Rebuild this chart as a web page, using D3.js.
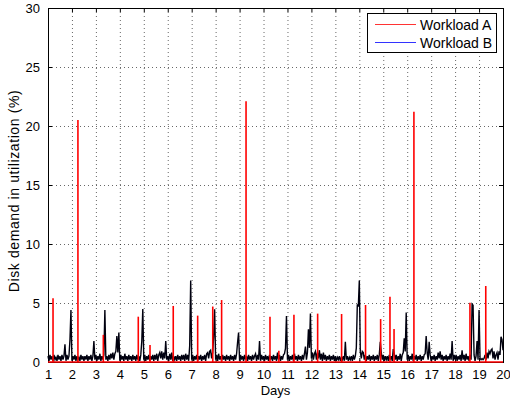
<!DOCTYPE html>
<html>
<head>
<meta charset="utf-8">
<script src="https://cdn.jsdelivr.net/npm/d3@7"></script>
<style>
  body { margin: 0; background: #fff; }
  text { font-family: "Liberation Sans", Arial, Helvetica, sans-serif; fill: #000; }
</style>
</head>
<body>
<div id="chart"></div>
<script>
var xTicks = [1,2,3,4,5,6,7,8,9,10,11,12,13,14,15,16,17,18,19,20];
var yTicks = [0,5,10,15,20,25,30];
var seriesNames = ["Workload A", "Workload B"];

// workload A: flat at 0 with short bursts (day, value)
var spikeDaysA = [1.21,2.25,3.31,4.77,5.26,6.23,7.25,7.88,8.25,9.27,10.27,10.64,11.27,12.26,13.26,14.26,14.89,15.28,15.45,16.28,18.62,19.28];
var spikeValsA = [5.4,20.5,2.3,3.84,1.44,4.75,3.93,4.7,5.25,22.1,3.84,0.96,4.0,4.1,4.07,4.83,3.64,5.53,2.8,21.2,5.03,6.44];

// workload B: hourly samples starting at day 1
var samplesPerDay = 24;
var valuesB = [
  0.5,0.1,0.6,0.2,0.5,0.1,0.6,0.2,0.4,0.1,0.6,0.2,0.5,0.1,0.6,0.2,0.5,1.5,0.1,0.6,0.2,0.5,1.86,4.4,
  0.1,0.5,0.2,0.6,0.1,0.5,0.2,0.4,0.1,0.6,0.2,0.5,0.1,0.5,0.2,0.6,0.1,0.5,0.2,0.6,0.1,0.5,1.78,0.2,
  0.6,0.1,0.5,0.2,0.7,0.1,0.5,0.2,0.6,4.4,0.2,0.5,0.1,0.6,0.2,0.7,0.3,0.8,0.2,0.7,0.9,2.2,0.8,2.5,
  0.1,0.6,0.2,0.5,0.1,0.7,0.2,0.5,0.1,0.6,0.2,0.5,0.1,0.6,0.2,0.5,0.1,0.6,0.2,0.5,0.1,0.6,1.78,4.48,
  0.2,0.6,0.1,0.5,0.2,0.6,0.1,0.5,0.2,0.6,0.1,0.6,0.2,0.7,0.1,0.6,0.8,0.3,0.9,0.2,0.8,0.3,1.78,0.2,
  0.5,0.1,0.7,0.2,0.8,0.1,0.5,0.2,0.5,0.1,0.6,0.2,0.5,0.1,0.6,0.2,0.6,0.1,0.7,0.2,0.6,0.1,1.38,6.9,
  0.2,0.6,0.1,0.5,0.2,0.6,0.1,0.5,0.2,0.6,0.1,0.5,0.2,0.6,0.1,0.7,0.8,0.3,0.9,1.0,0.3,0.8,2.14,4.46,
  0.2,0.6,0.1,0.7,0.2,0.5,0.1,0.6,0.2,0.5,0.1,0.6,0.2,0.5,0.1,0.6,0.2,0.5,0.1,0.6,0.2,0.7,1.67,2.5,
  0.1,0.6,0.2,0.5,0.1,0.6,0.2,0.5,0.1,0.6,0.2,0.5,0.1,0.6,0.2,0.5,0.7,0.1,0.6,0.2,1.78,0.1,0.6,0.2,
  0.5,0.1,0.6,0.2,0.5,0.1,0.6,0.2,0.5,0.1,0.6,0.2,0.5,0.1,0.8,0.2,0.6,0.1,0.5,0.2,0.6,0.7,1.16,3.9,
  0.2,0.6,0.1,0.5,0.2,0.6,0.1,0.7,0.2,0.5,0.1,0.6,0.2,0.5,0.1,0.6,0.2,0.7,1.3,0.2,0.8,2.77,1.2,4.1,
  0.3,0.8,0.2,0.7,0.9,0.2,0.8,0.3,1.0,0.2,0.7,0.1,0.8,0.2,0.6,0.1,0.5,0.2,0.6,0.1,0.5,0.2,0.6,0.1,
  0.5,0.1,0.4,0.2,0.5,0.1,0.4,0.2,0.5,0.1,1.72,0.2,0.5,0.1,0.4,0.2,0.5,0.1,0.6,0.2,0.5,1.2,4.89,4.7,
  6.9,0.9,0.3,0.9,0.8,0.2,0.6,0.1,0.5,0.2,0.6,0.1,0.5,0.2,0.6,0.1,0.5,0.2,0.6,0.1,0.6,1.72,0.8,0.2,
  0.6,0.1,0.5,0.2,0.5,0.1,0.6,0.2,0.5,0.1,1.1,0.7,0.2,0.6,0.1,0.5,0.2,0.7,0.1,0.6,0.8,2.0,0.9,4.2,
  0.2,0.6,0.1,0.5,0.2,0.7,0.1,0.5,0.2,0.6,0.1,0.5,0.2,0.6,0.1,0.5,0.2,0.6,0.7,2.2,0.8,0.2,1.72,0.6,
  0.1,0.5,0.2,0.6,0.1,0.5,0.2,0.8,0.3,0.9,0.2,0.6,0.1,0.5,0.2,0.6,0.1,0.5,0.2,0.7,0.2,1.78,0.1,0.6,
  0.2,0.6,0.1,0.5,0.2,0.6,0.1,1.0,0.2,0.6,0.1,0.7,0.2,0.5,0.1,0.6,0.2,4.9,4.8,0.6,0.1,0.5,1.78,0.2,
  4.4,0.3,0.2,0.3,0.2,0.3,0.6,0.2,0.8,0.3,0.9,0.7,1.0,1.1,0.3,0.9,0.2,0.6,0.8,0.2,0.9,0.6,2.14,1.9,
  1.0
];

var width = 510, height = 402;
var margin = {top: 8, right: 7, bottom: 40, left: 48};

var svg = d3.select("#chart").append("svg")
    .attr("width", width)
    .attr("height", height);

var x = d3.scaleLinear().domain([1, 20]).range([margin.left, width - margin.right]);
var y = d3.scaleLinear().domain([0, 30]).range([height - margin.bottom, margin.top]);

/* dotted grid */
var grid = svg.append("g").attr("stroke", "#000").attr("stroke-width", 0.6).attr("stroke-dasharray", "1,3");
grid.selectAll("line.v").data(xTicks.slice(1, -1)).enter().append("line")
    .attr("x1", function(d){ return x(d) + 0.5; })
    .attr("x2", function(d){ return x(d) + 0.5; })
    .attr("y1", y(30)).attr("y2", y(0));
grid.selectAll("line.h").data(yTicks.slice(1, -1)).enter().append("line")
    .attr("class", "h")
    .attr("y1", function(d){ return y(d) + 0.5; })
    .attr("y2", function(d){ return y(d) + 0.5; })
    .attr("x1", x(1)).attr("x2", x(20));

/* axes with inward ticks on all four sides */
var tick = 4;
svg.append("g").attr("transform", "translate(0," + y(0) + ")")
    .call(d3.axisBottom(x).tickValues(xTicks).tickSize(-tick).tickPadding(8).tickFormat(d3.format("d")))
    .call(function(g){ g.select(".domain").remove(); g.selectAll("text").style("font-size", "13px"); });
svg.append("g").attr("transform", "translate(0," + y(30) + ")")
    .call(d3.axisTop(x).tickValues(xTicks).tickSize(-tick).tickFormat(""))
    .call(function(g){ g.select(".domain").remove(); });
svg.append("g").attr("transform", "translate(" + x(1) + ",0)")
    .call(d3.axisLeft(y).tickValues(yTicks).tickSize(-tick).tickPadding(8))
    .call(function(g){ g.select(".domain").remove(); g.selectAll("text").style("font-size", "13px"); });
svg.append("g").attr("transform", "translate(" + x(20) + ",0)")
    .call(d3.axisRight(y).tickValues(yTicks).tickSize(-tick).tickFormat(""))
    .call(function(g){ g.select(".domain").remove(); });

svg.append("rect")
    .attr("x", x(1) + 0.5).attr("y", y(30) + 0.5)
    .attr("width", x(20) - x(1)).attr("height", y(0) - y(30))
    .attr("fill", "none").attr("stroke", "#000").attr("stroke-width", 1);

/* workload B */
var lineB = d3.line()
    .x(function(d, i){ return x(1 + i / samplesPerDay); })
    .y(function(d){ return y(d); });
svg.append("path")
    .datum(valuesB)
    .attr("d", lineB)
    .attr("fill", "none")
    .attr("stroke", "#00000f")
    .attr("stroke-width", 1.4);

/* workload A */
svg.append("line")
    .attr("x1", x(1)).attr("x2", x(20))
    .attr("y1", y(0)).attr("y2", y(0))
    .attr("stroke", "#ff0000").attr("stroke-width", 1.5);
svg.append("g").selectAll("line")
    .data(spikeDaysA)
    .enter().append("line")
    .attr("x1", function(d){ return x(d); })
    .attr("x2", function(d){ return x(d); })
    .attr("y1", y(0))
    .attr("y2", function(d, i){ return y(spikeValsA[i]); })
    .attr("stroke", "#ff0000")
    .attr("stroke-width", 1.6);

/* labels */
svg.append("text")
    .attr("x", (x(1) + x(20)) / 2).attr("y", 395)
    .attr("text-anchor", "middle").style("font-size", "13px")
    .text("Days");
svg.append("text")
    .attr("transform", "translate(19,191) rotate(-90)")
    .attr("text-anchor", "middle").style("font-size", "14px")
    .style("letter-spacing", "0.6px")
    .text("Disk demand in utilization (%)");

/* legend */
var legend = svg.append("g").attr("transform", "translate(367,13)");
legend.append("rect")
    .attr("x", 0.5).attr("y", 0.5).attr("width", 129).attr("height", 39)
    .attr("fill", "#fff").attr("stroke", "#000");
var legendColors = ["#ff3333", "#3333ff"];
seriesNames.forEach(function(name, i){
    var ly = 11.5 + i * 18;
    legend.append("line")
        .attr("x1", 8).attr("x2", 49).attr("y1", ly).attr("y2", ly)
        .attr("stroke", legendColors[i]).attr("stroke-width", 1);
    legend.append("text")
        .attr("x", 53).attr("y", ly + 5)
        .style("font-size", "14px")
        .text(name);
});
</script>
</body>
</html>
